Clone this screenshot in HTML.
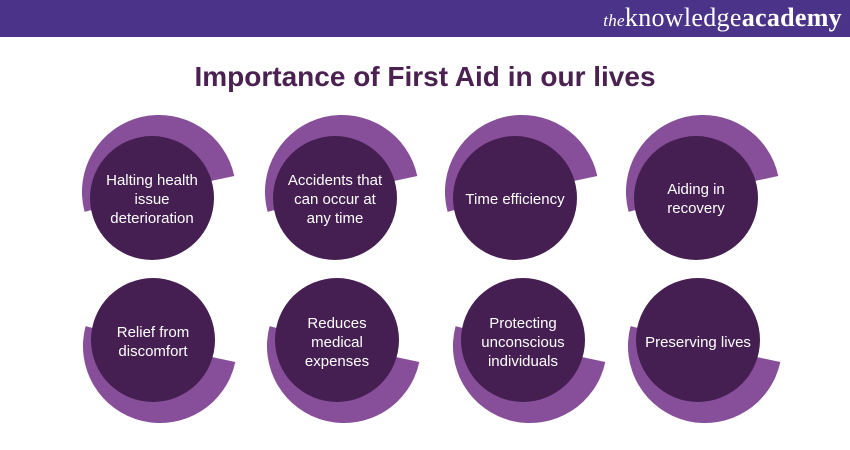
<!DOCTYPE html>
<html><head><meta charset="utf-8"><style>
body{margin:0;width:850px;height:450px;overflow:hidden;background:#fff;font-family:"Liberation Sans",sans-serif}
.hdr{position:absolute;left:0;top:0;width:850px;height:37px;background:#4a3389}
.logo{position:absolute;right:8px;top:3px;color:#fff;font-family:"Liberation Serif",serif;font-size:26px;letter-spacing:0.3px}
.logo i{font-size:17px}
.title{position:absolute;left:0;width:850px;top:61px;text-align:center;color:#4a2150;font-weight:bold;font-size:28px}
</style></head><body>
<div class="hdr"><div class="logo"><i>the</i>knowledge<b>academy</b></div></div>
<div class="title">Importance of First Aid in our lives</div>
<svg width="850" height="450" style="position:absolute;left:0;top:0" font-family="Liberation Sans, sans-serif" font-size="15" fill="#fff" text-anchor="middle">
<g fill="#874f99">
<path d="M159 192 L84.6 211.9 A77 77 0 1 1 234.3 176 Z"/>
<path d="M342 192 L267.6 211.9 A77 77 0 1 1 417.3 176 Z"/>
<path d="M522 192 L447.6 211.9 A77 77 0 1 1 597.3 176 Z"/>
<path d="M703 192 L628.6 211.9 A77 77 0 1 1 778.3 176 Z"/>
<path d="M160 346 L85.6 326.1 A77 77 0 1 0 235.3 362 Z"/>
<path d="M344 346 L269.6 326.1 A77 77 0 1 0 419.3 362 Z"/>
<path d="M530 346 L455.6 326.1 A77 77 0 1 0 605.3 362 Z"/>
<path d="M705 346 L630.6 326.1 A77 77 0 1 0 780.3 362 Z"/>
</g>
<g fill="#451f52">
<circle cx="152" cy="198" r="62"/><circle cx="335" cy="198" r="62"/><circle cx="515" cy="198" r="62"/><circle cx="696" cy="198" r="62"/>
<circle cx="153" cy="340" r="62"/><circle cx="337" cy="340" r="62"/><circle cx="523" cy="340" r="62"/><circle cx="698" cy="340" r="62"/>
</g>
<text x="152" y="185">Halting health</text><text x="152" y="204">issue</text><text x="152" y="223">deterioration</text>
<text x="335" y="185">Accidents that</text><text x="335" y="204">can occur at</text><text x="335" y="223">any time</text>
<text x="515" y="204">Time efficiency</text>
<text x="696" y="194">Aiding in</text><text x="696" y="213">recovery</text>
<text x="153" y="337">Relief from</text><text x="153" y="356">discomfort</text>
<text x="337" y="328">Reduces</text><text x="337" y="347">medical</text><text x="337" y="366">expenses</text>
<text x="523" y="328">Protecting</text><text x="523" y="347">unconscious</text><text x="523" y="366">individuals</text>
<text x="698" y="347">Preserving lives</text>
</svg>
</body></html>
